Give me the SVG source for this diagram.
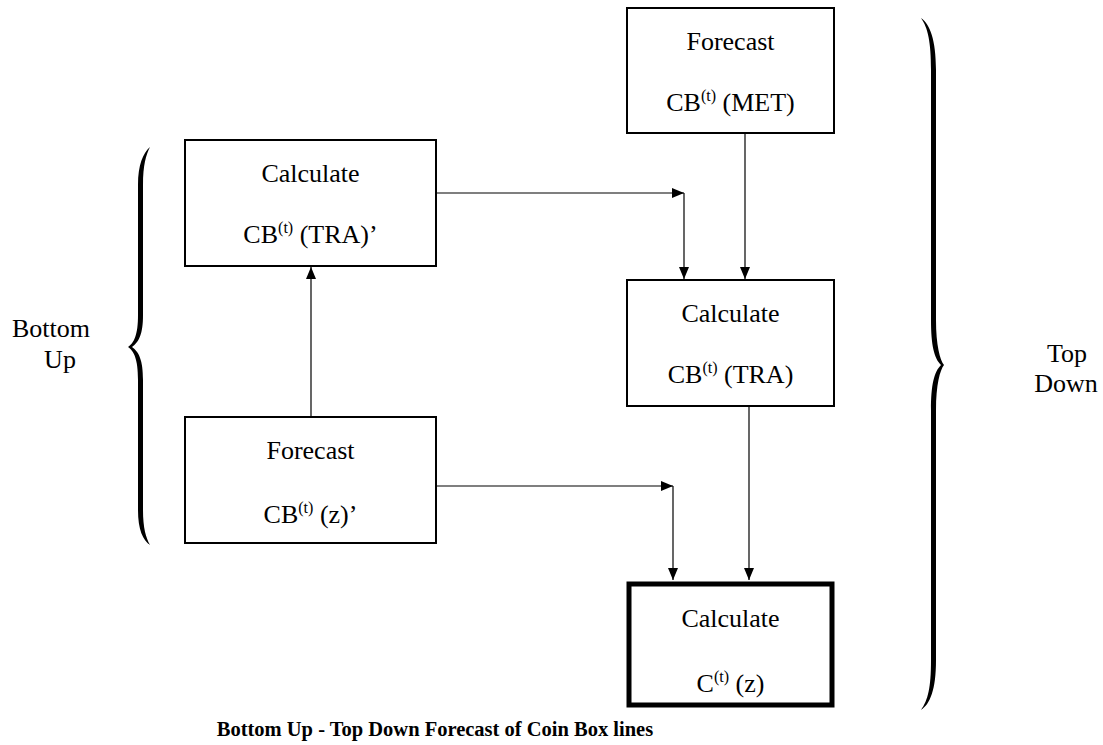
<svg xmlns="http://www.w3.org/2000/svg" width="1103" height="745" viewBox="0 0 1103 745">
  <defs>
    <marker id="arrow" viewBox="0 0 12 10" refX="12" refY="5" markerWidth="12" markerHeight="10" markerUnits="userSpaceOnUse" orient="auto">
      <path d="M0,0 L12,5 L0,10 Z" fill="#000"/>
    </marker>
    <style>
      .box { fill: #fff; stroke: #000; stroke-width: 2; }
      .box-strong { fill: #fff; stroke: #000; stroke-width: 5; }
      .label { font-family: "Liberation Serif", "Times New Roman", serif; font-size: 26px; fill: #000; text-anchor: middle; }
      .sup { font-size: 16px; }
      .caption { font-family: "Liberation Serif", "Times New Roman", serif; font-size: 20.5px; font-weight: bold; fill: #000; text-anchor: middle; }
      .link { fill: none; stroke: #000; stroke-width: 1.2; marker-end: url(#arrow); }
      .brace { fill: #000; }
    </style>
  </defs>

  <rect width="1103" height="745" fill="#fff"/>

  <!-- connectors -->
  <g id="connectors">
    <line class="link" x1="437" y1="193" x2="684" y2="193"/>
    <line class="link" x1="684" y1="193" x2="684" y2="279"/>
    <line class="link" x1="745" y1="134" x2="745" y2="279"/>
    <line class="link" x1="749" y1="407" x2="749" y2="580"/>
    <line class="link" x1="437" y1="486" x2="673" y2="486"/>
    <line class="link" x1="673" y1="486" x2="673" y2="580"/>
    <line class="link" x1="311" y1="416" x2="311" y2="267"/>
  </g>

  <!-- nodes -->
  <g id="forecast-met">
    <rect class="box" x="627" y="8" width="207" height="125"/>
    <text class="label" x="730.5" y="50">Forecast</text>
    <text class="label" x="730.5" y="111">CB<tspan class="sup" dy="-10">(t)</tspan><tspan dy="10"> (MET)</tspan></text>
  </g>

  <g id="calculate-tra-prime">
    <rect class="box" x="185" y="140" width="251" height="126"/>
    <text class="label" x="310.5" y="182">Calculate</text>
    <text class="label" x="310.5" y="243">CB<tspan class="sup" dy="-10">(t)</tspan><tspan dy="10"> (TRA)’</tspan></text>
  </g>

  <g id="calculate-tra">
    <rect class="box" x="627" y="280" width="207" height="126"/>
    <text class="label" x="730.5" y="322">Calculate</text>
    <text class="label" x="730.5" y="383">CB<tspan class="sup" dy="-10">(t)</tspan><tspan dy="10"> (TRA)</tspan></text>
  </g>

  <g id="forecast-z-prime">
    <rect class="box" x="185" y="417" width="251" height="126"/>
    <text class="label" x="310.5" y="459">Forecast</text>
    <text class="label" x="310.5" y="523">CB<tspan class="sup" dy="-10">(t)</tspan><tspan dy="10"> (z)’</tspan></text>
  </g>

  <g id="calculate-z">
    <rect class="box-strong" x="629" y="584" width="203" height="121"/>
    <text class="label" x="730.5" y="627">Calculate</text>
    <text class="label" x="730.5" y="692">C<tspan class="sup" dy="-10">(t)</tspan><tspan dy="10"> (z)</tspan></text>
  </g>

  <!-- braces and side labels -->
  <g id="bottom-up">
    <path class="brace" d="M150,147 C143,153 138,165 138,185 L138,315 C138,335 134,343 128,347 C134,351 138,359 138,380 L138,510 C138,530 143,540 150,545 C146,538 143,528 143,510 L143,380 C143,360 139,352 132,347 C139,342 143,334 143,315 L143,185 C143,165 146,155 150,147 Z"/>
    <text class="label" x="51" y="337">Bottom</text>
    <text class="label" x="60" y="368">Up</text>
  </g>

  <g id="top-down">
    <path class="brace" d="M921,18 C930,24 936,40 936,70 L936,320 C936,345 940,360 944,365 C940,370 936,385 936,410 L936,660 C936,690 930,704 921,710 C928,700 931,688 931,660 L931,410 C931,385 934,372 941,365 C934,358 931,345 931,320 L931,70 C931,42 928,28 921,18 Z"/>
    <text class="label" x="1067" y="362">Top</text>
    <text class="label" x="1066" y="392">Down</text>
  </g>

  <text class="caption" x="435" y="736">Bottom Up - Top Down Forecast of Coin Box lines</text>
</svg>
